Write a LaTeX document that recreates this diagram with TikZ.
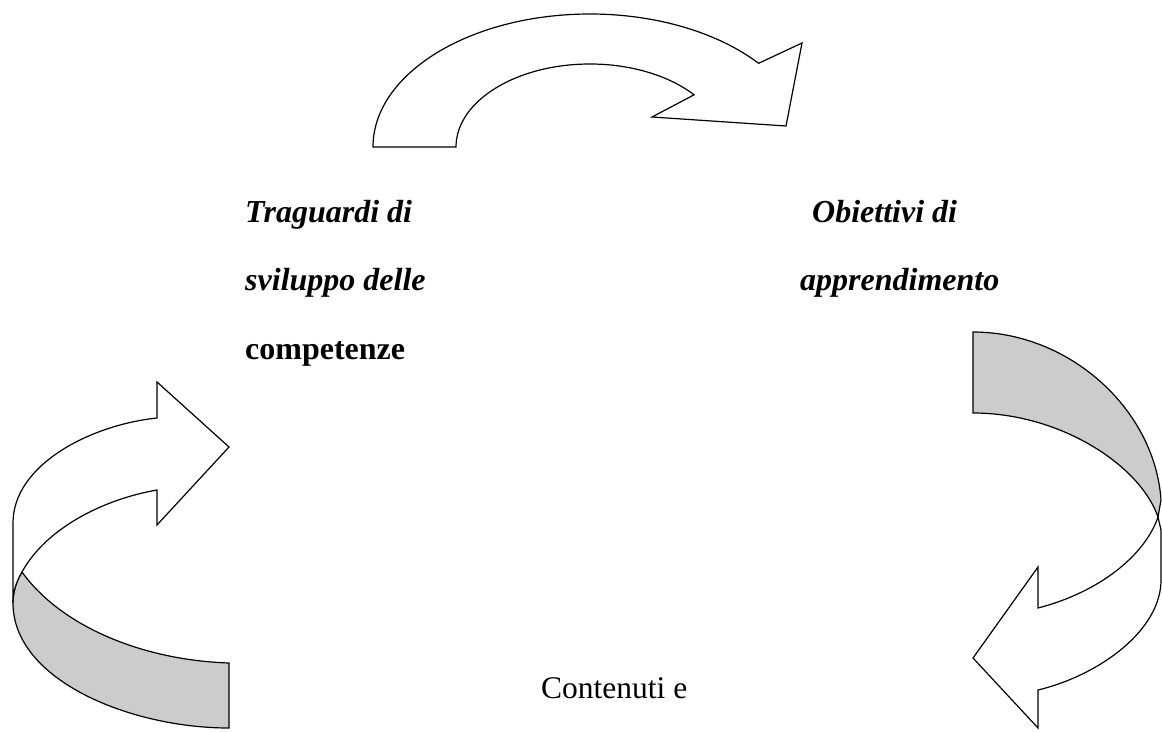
\documentclass[tikz,border=0pt]{standalone}
\usepackage{fontspec}
\setmainfont{Liberation Serif}
\definecolor{backgray}{HTML}{CCCCCC}
\tikzset{
  arrowface/.style={draw=black, fill=white, line width=1.2pt, line join=miter},
  arrowback/.style={draw=black, fill=backgray, line width=1.2pt, line join=miter},
  boldlabel/.style={anchor=base west, inner sep=0pt, font=\fontsize{32}{38}\selectfont\bfseries\itshape},
  boldup/.style={anchor=base west, inner sep=0pt, font=\fontsize{32}{38}\selectfont\bfseries},
  plainlabel/.style={anchor=base west, inner sep=0pt, font=\fontsize{31.5}{38}\selectfont}
}
\begin{document}
\begin{tikzpicture}[x=1pt,y=-1pt]
\useasboundingbox (0,0) rectangle (1162,731);
% top curved arrow
\draw[arrowface] (373,147) .. controls (373,73.5) and (470.2,14) .. (590,14)
  .. controls (655.5,14) and (717.4,32.2) .. (758.6,63.3)
  -- (802,43) -- (786,126) -- (652,117) -- (694.1,94.8)
  .. controls (668.7,75.4) and (630.4,64) .. (590,64)
  .. controls (516,64) and (456,101.2) .. (456,147) -- cycle;
% left ribbon arrow
\draw[arrowback] (22,572) .. controls (60,625) and (140,660) .. (229,663)
  -- (229,728) .. controls (130,728) and (13,680) .. (13,603)
  .. controls (13,592) and (16,582) .. (22,572) -- cycle;
\draw[arrowface] (157,418) -- (157,382) -- (229,447) -- (157,525) -- (157,490)
  .. controls (100,500) and (45,530) .. (22,572)
  .. controls (16,582) and (13,592) .. (13,603)
  -- (13,523) .. controls (13,465) and (90,425) .. (157,418) -- cycle;
% right ribbon arrow
\draw[arrowback] (973,332) -- (973,413) .. controls (1060,413) and (1140,465) .. (1158,517)
  -- (1161,500) .. controls (1155,410) and (1070,332) .. (973,332) -- cycle;
\draw[arrowface] (1158,517) -- (1161,530) -- (1161,580)
  .. controls (1161,630) and (1100,675) .. (1038,690)
  -- (1038,728) -- (973,658) -- (1038,567) -- (1038,608)
  .. controls (1100,592) and (1145,555) .. (1158,517) -- cycle;
% texts
\node[boldlabel] (t1) at (245,222) {Traguardi di};
\node[boldlabel] (t2) at (245,290) {sviluppo delle};
\node[boldup] (t3) at (245,359) {competenze};
\node[boldlabel] (o1) at (812,222) {Obiettivi di};
\node[boldlabel] (o2) at (800,290) {apprendimento};
\node[plainlabel] (c1) at (541,698) {Contenuti e};
\end{tikzpicture}
\end{document}
